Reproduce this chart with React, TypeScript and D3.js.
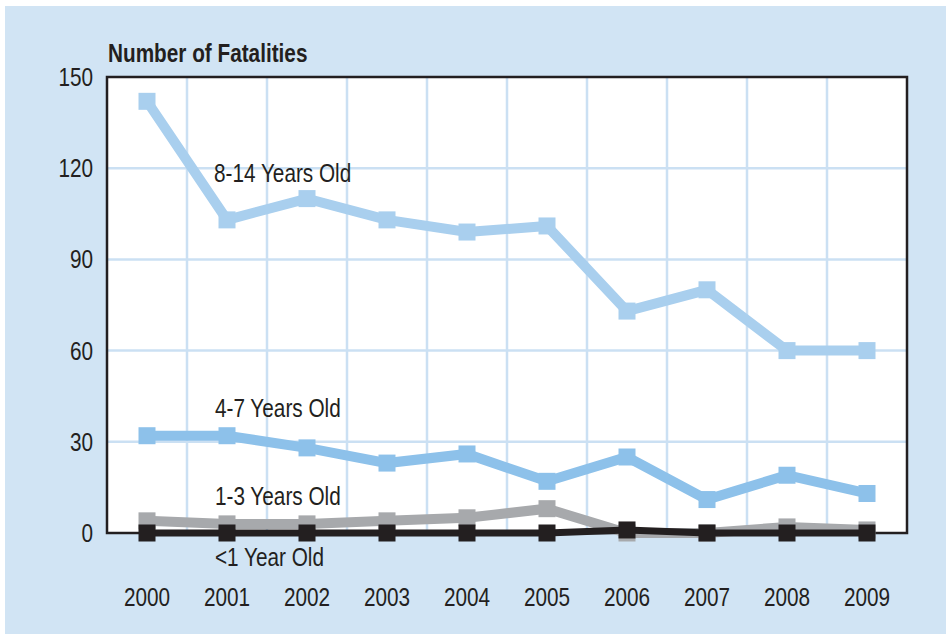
import React, { useEffect, useRef } from "react";
import * as d3 from "d3";

// data
const years = ["2000", "2001", "2002", "2003", "2004", "2005", "2006", "2007", "2008", "2009"];
const age8to14 = [142, 103, 110, 103, 99, 101, 73, 80, 60, 60];
const age4to7 = [32, 32, 28, 23, 26, 17, 25, 11, 19, 13];
const age1to3 = [4, 3, 3, 4, 5, 8, 0, 0, 2, 1];
const ageUnder1 = [0, 0, 0, 0, 0, 0, 1, 0, 0, 0];
const yTicks = [0, 30, 60, 90, 120, 150];

const seriesNames = ["8-14 Years Old", "4-7 Years Old", "1-3 Years Old", "<1 Year Old"];

const FONT = "'Liberation Sans', Arial, sans-serif";
const SX = 0.83; // horizontal squeeze to mimic a condensed face

const App = () => {
  const svgRef = useRef<SVGSVGElement>(null);

  useEffect(() => {
    document.body.style.margin = "0";
    const svg = d3.select(svgRef.current);
    svg.selectAll("*").remove();

    const width = 946;
    const plot = { left: 107, top: 77, right: 907, bottom: 533 };

    // panel background
    svg.append("rect").attr("x", 5).attr("y", 6).attr("width", width - 5).attr("height", 628).attr("fill", "#D1E4F4");

    const x = d3.scaleBand().domain(years).range([plot.left, plot.right]);
    const y = d3.scaleLinear().domain([0, 150]).range([plot.bottom, plot.top]);
    const cx = (d: string) => (x(d) as number) + x.bandwidth() / 2;

    svg
      .append("rect")
      .attr("x", plot.left)
      .attr("y", plot.top)
      .attr("width", plot.right - plot.left)
      .attr("height", plot.bottom - plot.top)
      .attr("fill", "#fff");

    // gridlines
    const grid = svg.append("g").attr("stroke", "#CBE0F3").attr("stroke-width", 2.5);
    grid
      .selectAll("line.v")
      .data(years.slice(1))
      .enter()
      .append("line")
      .attr("x1", (d) => x(d) as number)
      .attr("x2", (d) => x(d) as number)
      .attr("y1", plot.top)
      .attr("y2", plot.bottom);
    grid
      .selectAll("line.h")
      .data(yTicks.slice(1, -1))
      .enter()
      .append("line")
      .attr("x1", plot.left)
      .attr("x2", plot.right)
      .attr("y1", (d) => y(d))
      .attr("y2", (d) => y(d));

    // frame
    svg
      .append("rect")
      .attr("x", plot.left)
      .attr("y", plot.top)
      .attr("width", plot.right - plot.left)
      .attr("height", plot.bottom - plot.top)
      .attr("fill", "none")
      .attr("stroke", "#231F20")
      .attr("stroke-width", 2.5);

    const series = [
      { values: age8to14, color: "#A9CFEE", lw: 10, ms: 17 },
      { values: age4to7, color: "#8DC1EA", lw: 10, ms: 17 },
      { values: age1to3, color: "#A7A9AC", lw: 10, ms: 17 },
      { values: ageUnder1, color: "#231F20", lw: 7, ms: 17 },
    ];

    const line = d3
      .line<number>()
      .x((_, i) => cx(years[i]))
      .y((d) => y(d));

    series.forEach((s) => {
      svg
        .append("path")
        .attr("d", line(s.values))
        .attr("fill", "none")
        .attr("stroke", s.color)
        .attr("stroke-width", s.lw)
        .attr("stroke-linejoin", "miter");
      svg
        .selectAll(null)
        .data(s.values)
        .enter()
        .append("rect")
        .attr("x", (_, i) => cx(years[i]) - s.ms / 2)
        .attr("y", (d) => y(d) - s.ms / 2)
        .attr("width", s.ms)
        .attr("height", s.ms)
        .attr("fill", s.color);
    });

    // condensed text helper
    const addText = (tx: number, ty: number, str: string, anchor = "start", bold = false) =>
      svg
        .append("text")
        .attr("transform", `translate(${tx},${ty}) scale(${SX},1)`)
        .attr("text-anchor", anchor)
        .style("font-family", FONT)
        .style("font-size", "25px")
        .style("font-weight", bold ? "bold" : "normal")
        .attr("fill", "#231F20")
        .text(str);

    // series labels
    const labelPos = [
      { x: 214, y: 182 },
      { x: 215, y: 417 },
      { x: 215, y: 505 },
      { x: 215, y: 566 },
    ];
    seriesNames.forEach((name, i) => addText(labelPos[i].x, labelPos[i].y, name));

    // y axis labels
    yTicks.forEach((t) => addText(93, y(t) + 9, String(t), "end"));

    // x axis labels
    years.forEach((yr) => addText(cx(yr), 606, yr, "middle"));

    addText(108, 62, "Number of Fatalities", "start", true);
  }, []);

  return <svg ref={svgRef} width={946} height={640} style={{ display: "block" }}></svg>;
};

export default App;
